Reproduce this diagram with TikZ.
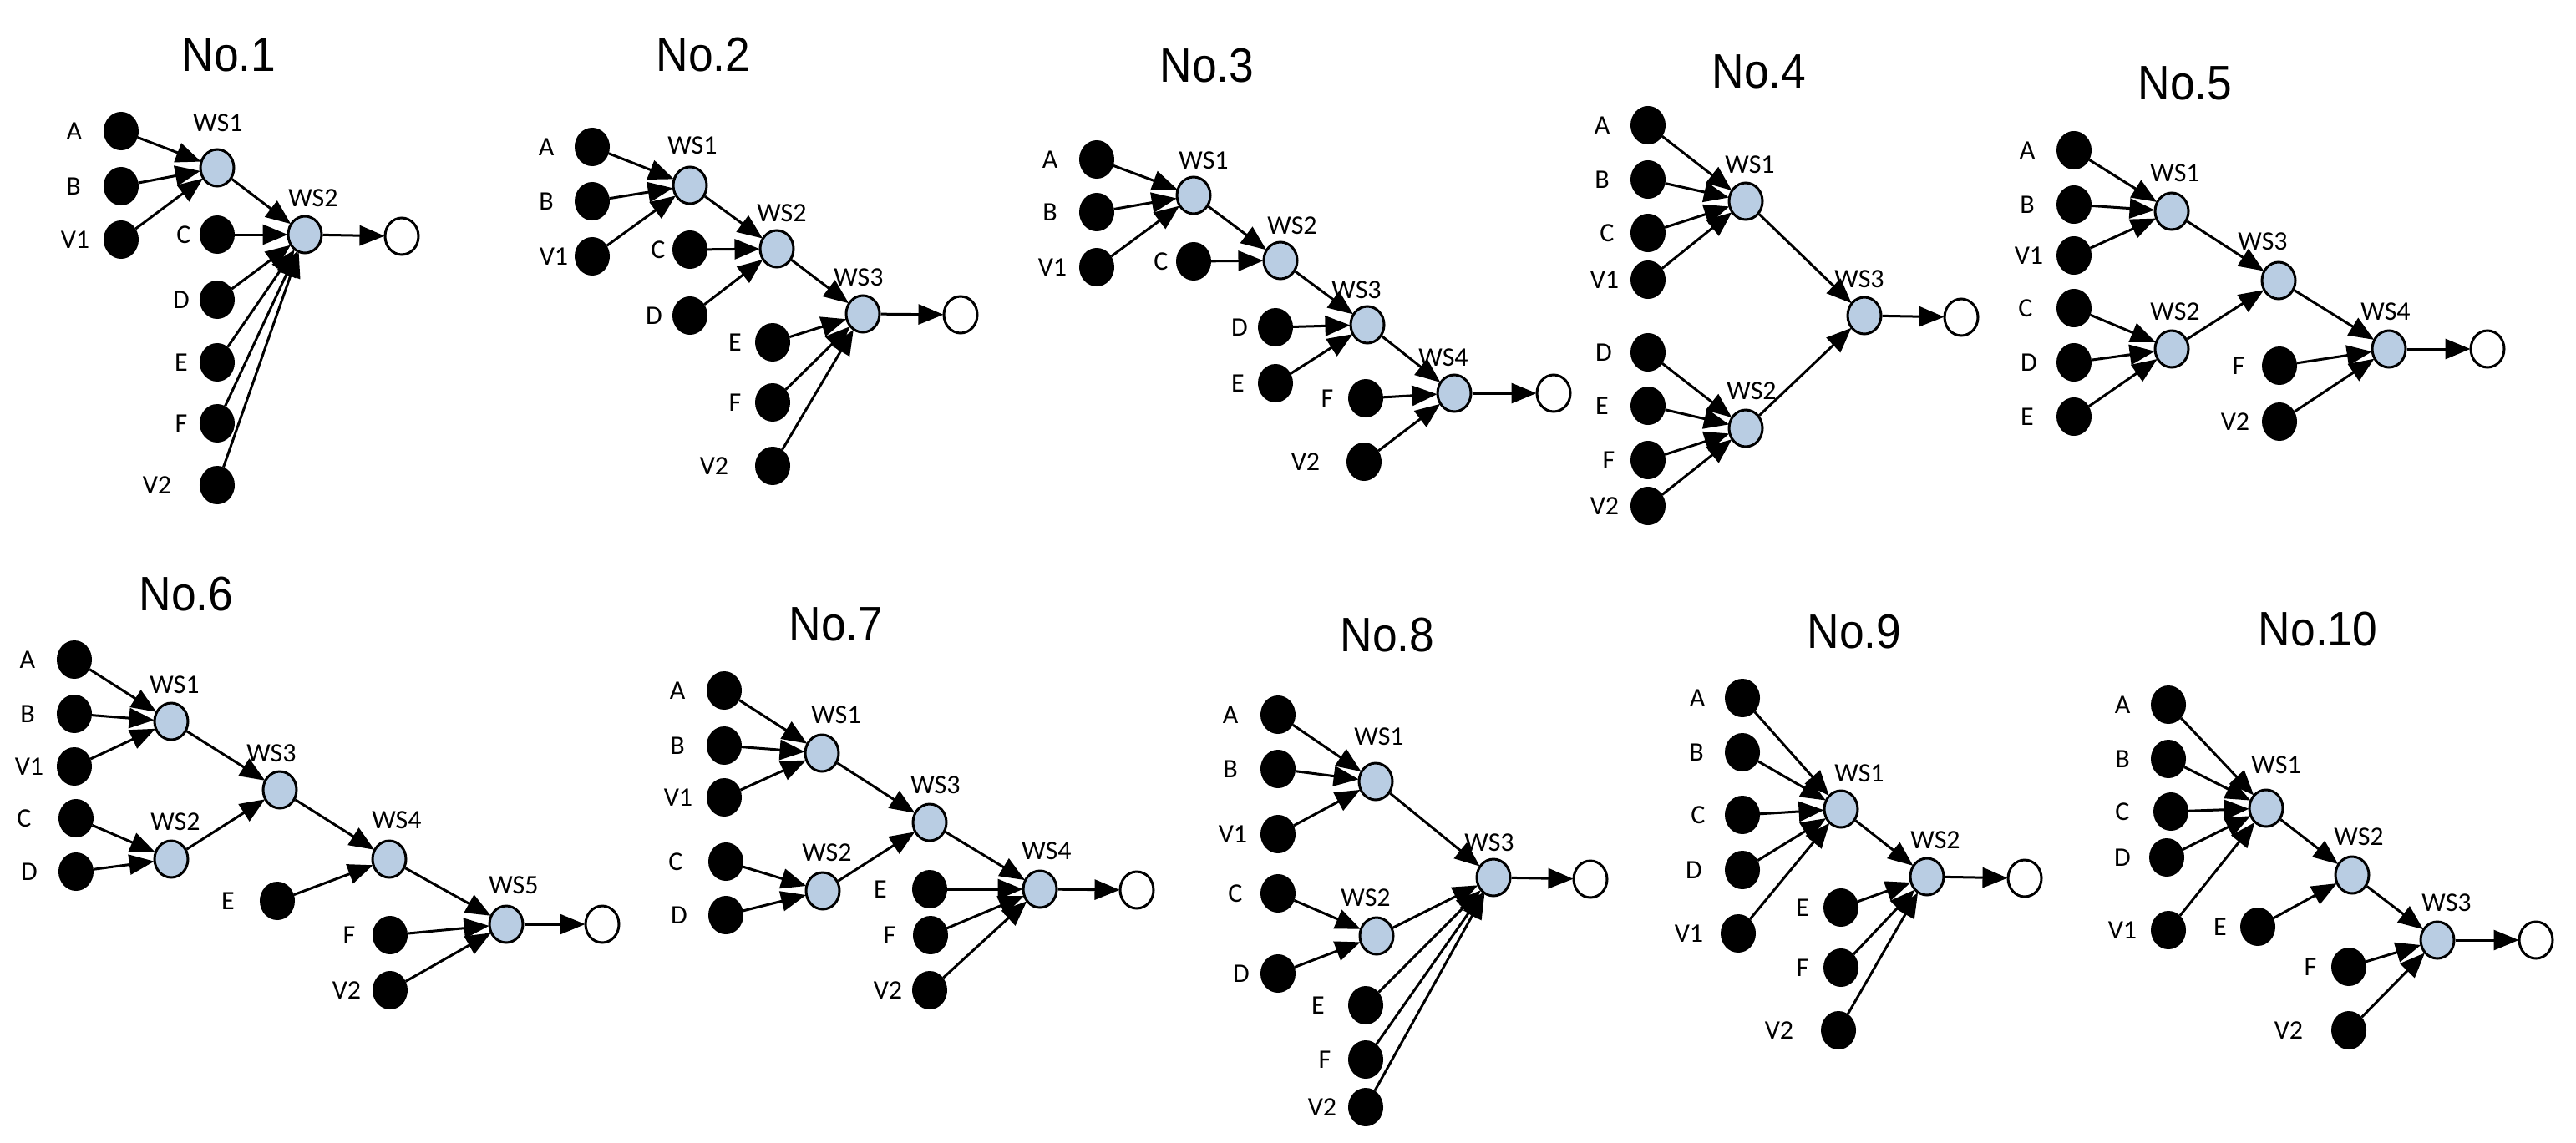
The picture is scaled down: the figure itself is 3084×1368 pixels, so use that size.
\documentclass[tikz,border=0pt]{standalone}
\usepackage{fontspec}
\setmainfont{Carlito}
\newfontfamily\titlefont{Liberation Sans}
\usetikzlibrary{shapes.geometric,arrows.meta}
\tikzset{
 inp/.style={ellipse,fill=black,draw=black,line width=2pt,minimum width=40pt,minimum height=44pt,inner sep=0pt},
 ws/.style={ellipse,fill={rgb,255:red,185;green,205;blue,227},draw=black,line width=3pt,minimum width=40pt,minimum height=44pt,inner sep=0pt},
 sink/.style={ellipse,fill=white,draw=black,line width=3pt,minimum width=40pt,minimum height=44pt,inner sep=0pt},
 lab/.style={font=\fontsize{32}{36}\selectfont,inner sep=0pt},
 ttl/.style={font=\titlefont\fontsize{58}{64}\selectfont,inner sep=0pt,xscale=0.92},
 arr/.style={line width=3pt,-{Triangle[length=30pt,width=24pt]},shorten >=-1pt}
}
\newcommand{\mkI}[5]{\node[inp] (#1) at (#2,#3) {}; \node[lab] at (#5,#3) {#4};}
\newcommand{\mkW}[6]{\node[ws] (#1) at (#2,#3) {}; \node[lab] at (#5,#6) {#4};}
\newcommand{\mkO}[3]{\node[sink] (#1) at (#2,#3) {};}
\newcommand{\mkE}[2]{\draw[arr] (#1) -- (#2);}
\newcommand{\mkT}[4]{\node[ttl] (#1) at (#2,#3) {#4};}
\begin{document}
\begin{tikzpicture}[x=1pt,y=-1pt]
\useasboundingbox[fill=white] (0,0) rectangle (3084,1368);
% No.1
\mkT{t1}{274}{66}{No.1}
\mkI{a1A}{145}{157}{A}{89}
\mkI{a1B}{145}{223}{B}{88}
\mkI{a1V}{145}{287}{V1}{90}
\mkI{a1C}{260}{281}{C}{220}
\mkI{a1D}{260}{359}{D}{217}
\mkI{a1E}{260}{434}{E}{217}
\mkI{a1F}{260}{507}{F}{217}
\mkI{a1V2}{260}{581}{V2}{188}
\mkW{a1W1}{260}{201}{WS1}{261}{147}
\mkW{a1W2}{365}{281}{WS2}{375}{237}
\mkO{a1O}{481}{283}
\mkE{a1A}{a1W1}\mkE{a1B}{a1W1}\mkE{a1V}{a1W1}
\mkE{a1W1}{a1W2}\mkE{a1C}{a1W2}\mkE{a1D}{a1W2}\mkE{a1E}{a1W2}\mkE{a1F}{a1W2}\mkE{a1V2}{a1W2}
\mkE{a1W2}{a1O}
% No.2
\mkT{t2}{842}{66}{No.2}
\mkI{a2A}{709}{176}{A}{654}
\mkI{a2B}{709}{241}{B}{654}
\mkI{a2V}{709}{307}{V1}{663}
\mkI{a2C}{826}{299}{C}{788}
\mkI{a2D}{826}{378}{D}{783}
\mkI{a2E}{925}{410}{E}{880}
\mkI{a2F}{925}{482}{F}{880}
\mkI{a2V2}{925}{558}{V2}{855}
\mkW{a2W1}{826}{222}{WS1}{829}{174}
\mkW{a2W2}{930}{298}{WS2}{936}{255}
\mkW{a2W3}{1033}{376}{WS3}{1028}{332}
\mkO{a2O}{1150}{377}
\mkE{a2A}{a2W1}\mkE{a2B}{a2W1}\mkE{a2V}{a2W1}
\mkE{a2W1}{a2W2}\mkE{a2C}{a2W2}\mkE{a2D}{a2W2}
\mkE{a2W2}{a2W3}\mkE{a2E}{a2W3}\mkE{a2F}{a2W3}\mkE{a2V2}{a2W3}
\mkE{a2W3}{a2O}
% No.3
\mkT{t3}{1445}{79}{No.3}
\mkI{a3A}{1313}{191}{A}{1257}
\mkI{a3B}{1313}{254}{B}{1257}
\mkI{a3V}{1313}{320}{V1}{1260}
\mkI{a3C}{1429}{313}{C}{1390}
\mkI{a3D}{1527}{392}{D}{1484}
\mkI{a3E}{1527}{459}{E}{1482}
\mkI{a3F}{1635}{477}{F}{1589}
\mkI{a3V2}{1633}{553}{V2}{1563}
\mkW{a3W1}{1429}{234}{WS1}{1441}{192}
\mkW{a3W2}{1533}{312}{WS2}{1547}{270}
\mkW{a3W3}{1637}{389}{WS3}{1624}{347}
\mkW{a3W4}{1741}{471}{WS4}{1728}{428}
\mkO{a3O}{1860}{471}
\mkE{a3A}{a3W1}\mkE{a3B}{a3W1}\mkE{a3V}{a3W1}
\mkE{a3W1}{a3W2}\mkE{a3C}{a3W2}
\mkE{a3W2}{a3W3}\mkE{a3D}{a3W3}\mkE{a3E}{a3W3}
\mkE{a3W3}{a3W4}\mkE{a3F}{a3W4}\mkE{a3V2}{a3W4}
\mkE{a3W4}{a3O}
% No.4
\mkT{t4}{2106}{86}{No.4}
\mkI{a4A}{1973}{150}{A}{1918}
\mkI{a4B}{1973}{215}{B}{1918}
\mkI{a4C}{1973}{279}{C}{1924}
\mkI{a4V}{1973}{335}{V1}{1921}
\mkI{a4D}{1973}{422}{D}{1920}
\mkI{a4E}{1973}{486}{E}{1918}
\mkI{a4F}{1973}{551}{F}{1926}
\mkI{a4V2}{1973}{606}{V2}{1921}
\mkW{a4W1}{2090}{241}{WS1}{2095}{197}
\mkW{a4W2}{2090}{513}{WS2}{2097}{468}
\mkW{a4W3}{2232}{378}{WS3}{2226}{334}
\mkO{a4O}{2348}{380}
\mkE{a4A}{a4W1}\mkE{a4B}{a4W1}\mkE{a4C}{a4W1}\mkE{a4V}{a4W1}
\mkE{a4D}{a4W2}\mkE{a4E}{a4W2}\mkE{a4F}{a4W2}\mkE{a4V2}{a4W2}
\mkE{a4W1}{a4W3}\mkE{a4W2}{a4W3}
\mkE{a4W3}{a4O}
% No.5
\mkT{t5}{2616}{100}{No.5}
\mkI{a5A}{2483}{180}{A}{2427}
\mkI{a5B}{2483}{245}{B}{2427}
\mkI{a5V}{2483}{306}{V1}{2429}
\mkI{a5C}{2483}{369}{C}{2425}
\mkI{a5D}{2483}{434}{D}{2429}
\mkI{a5E}{2483}{499}{E}{2427}
\mkI{a5F}{2729}{438}{F}{2680}
\mkI{a5V2}{2729}{505}{V2}{2676}
\mkW{a5W1}{2600}{253}{WS1}{2604}{207}
\mkW{a5W2}{2600}{418}{WS2}{2604}{373}
\mkW{a5W3}{2728}{336}{WS3}{2709}{289}
\mkW{a5W4}{2860}{418}{WS4}{2856}{373}
\mkO{a5O}{2978}{418}
\mkE{a5A}{a5W1}\mkE{a5B}{a5W1}\mkE{a5V}{a5W1}
\mkE{a5C}{a5W2}\mkE{a5D}{a5W2}\mkE{a5E}{a5W2}
\mkE{a5W1}{a5W3}\mkE{a5W2}{a5W3}
\mkE{a5W3}{a5W4}\mkE{a5F}{a5W4}\mkE{a5V2}{a5W4}
\mkE{a5W4}{a5O}
% No.6
\mkT{t6}{223}{712}{No.6}
\mkI{a6A}{89}{790}{A}{33}
\mkI{a6B}{89}{855}{B}{33}
\mkI{a6V}{89}{918}{V1}{35}
\mkI{a6C}{91}{980}{C}{29}
\mkI{a6D}{91}{1044}{D}{35}
\mkI{a6E}{332}{1079}{E}{273}
\mkI{a6F}{467}{1120}{F}{418}
\mkI{a6V2}{467}{1186}{V2}{415}
\mkW{a6W1}{205}{864}{WS1}{209}{820}
\mkW{a6W2}{205}{1029}{WS2}{210}{984}
\mkW{a6W3}{335}{946}{WS3}{325}{902}
\mkW{a6W4}{466}{1029}{WS4}{475}{982}
\mkW{a6W5}{606}{1107}{WS5}{615}{1060}
\mkO{a6O}{721}{1107}
\mkE{a6A}{a6W1}\mkE{a6B}{a6W1}\mkE{a6V}{a6W1}
\mkE{a6C}{a6W2}\mkE{a6D}{a6W2}
\mkE{a6W1}{a6W3}\mkE{a6W2}{a6W3}
\mkE{a6W3}{a6W4}\mkE{a6E}{a6W4}
\mkE{a6W4}{a6W5}\mkE{a6F}{a6W5}\mkE{a6V2}{a6W5}
\mkE{a6W5}{a6O}
% No.7
\mkT{t7}{1001}{748}{No.7}
\mkI{a7A}{867}{827}{A}{811}
\mkI{a7B}{867}{893}{B}{811}
\mkI{a7V}{867}{955}{V1}{812}
\mkI{a7C}{869}{1032}{C}{809}
\mkI{a7D}{869}{1096}{D}{813}
\mkI{a7E}{1113}{1065}{E}{1054}
\mkI{a7F}{1114}{1120}{F}{1065}
\mkI{a7V2}{1113}{1186}{V2}{1063}
\mkW{a7W1}{984}{902}{WS1}{1001}{856}
\mkW{a7W2}{985}{1067}{WS2}{990}{1021}
\mkW{a7W3}{1113}{985}{WS3}{1120}{940}
\mkW{a7W4}{1245}{1065}{WS4}{1253}{1019}
\mkO{a7O}{1361}{1066}
\mkE{a7A}{a7W1}\mkE{a7B}{a7W1}\mkE{a7V}{a7W1}
\mkE{a7C}{a7W2}\mkE{a7D}{a7W2}
\mkE{a7W1}{a7W3}\mkE{a7W2}{a7W3}
\mkE{a7W3}{a7W4}\mkE{a7E}{a7W4}\mkE{a7F}{a7W4}\mkE{a7V2}{a7W4}
\mkE{a7W4}{a7O}
% No.8
\mkT{t8}{1661}{761}{No.8}
\mkI{a8A}{1530}{856}{A}{1473}
\mkI{a8B}{1530}{921}{B}{1473}
\mkI{a8V}{1530}{999}{V1}{1476}
\mkI{a8C}{1530}{1070}{C}{1479}
\mkI{a8D}{1530}{1166}{D}{1486}
\mkI{a8E}{1635}{1204}{E}{1578}
\mkI{a8F}{1635}{1269}{F}{1586}
\mkI{a8V2}{1635}{1326}{V2}{1583}
\mkW{a8W1}{1647}{936}{WS1}{1651}{882}
\mkW{a8W2}{1648}{1121}{WS2}{1635}{1075}
\mkW{a8W3}{1788}{1051}{WS3}{1783}{1009}
\mkO{a8O}{1904}{1053}
\mkE{a8A}{a8W1}\mkE{a8B}{a8W1}\mkE{a8V}{a8W1}
\mkE{a8C}{a8W2}\mkE{a8D}{a8W2}
\mkE{a8W1}{a8W3}\mkE{a8W2}{a8W3}\mkE{a8E}{a8W3}\mkE{a8F}{a8W3}\mkE{a8V2}{a8W3}
\mkE{a8W3}{a8O}
% No.9
\mkT{t9}{2220}{757}{No.9}
\mkI{a9A}{2086}{836}{A}{2032}
\mkI{a9B}{2086}{901}{B}{2031}
\mkI{a9C}{2086}{976}{C}{2033}
\mkI{a9D}{2086}{1042}{D}{2028}
\mkI{a9V}{2081}{1118}{V1}{2022}
\mkI{a9E}{2204}{1087}{E}{2158}
\mkI{a9F}{2204}{1159}{F}{2158}
\mkI{a9V2}{2201}{1234}{V2}{2130}
\mkW{a9W1}{2204}{969}{WS1}{2226}{926}
\mkW{a9W2}{2307}{1050}{WS2}{2317}{1006}
\mkO{a9O}{2424}{1052}
\mkE{a9A}{a9W1}\mkE{a9B}{a9W1}\mkE{a9C}{a9W1}\mkE{a9D}{a9W1}\mkE{a9V}{a9W1}
\mkE{a9W1}{a9W2}\mkE{a9E}{a9W2}\mkE{a9F}{a9W2}\mkE{a9V2}{a9W2}
\mkE{a9W2}{a9O}
% No.10
\mkT{t10}{2775}{754}{No.10}
\mkI{b0A}{2596}{844}{A}{2541}
\mkI{b0B}{2596}{909}{B}{2541}
\mkI{b0C}{2599}{972}{C}{2541}
\mkI{b0D}{2594}{1027}{D}{2541}
\mkI{b0V}{2596}{1114}{V1}{2541}
\mkI{b0E}{2703}{1110}{E}{2658}
\mkI{b0F}{2812}{1158}{F}{2766}
\mkI{b0V2}{2812}{1234}{V2}{2740}
\mkW{b0W1}{2713}{968}{WS1}{2725}{916}
\mkW{b0W2}{2816}{1048}{WS2}{2824}{1002}
\mkW{b0W3}{2918}{1126}{WS3}{2929}{1081}
\mkO{b0O}{3036}{1126}
\mkE{b0A}{b0W1}\mkE{b0B}{b0W1}\mkE{b0C}{b0W1}\mkE{b0D}{b0W1}\mkE{b0V}{b0W1}
\mkE{b0W1}{b0W2}\mkE{b0E}{b0W2}
\mkE{b0W2}{b0W3}\mkE{b0F}{b0W3}\mkE{b0V2}{b0W3}
\mkE{b0W3}{b0O}
\end{tikzpicture}
\end{document}
